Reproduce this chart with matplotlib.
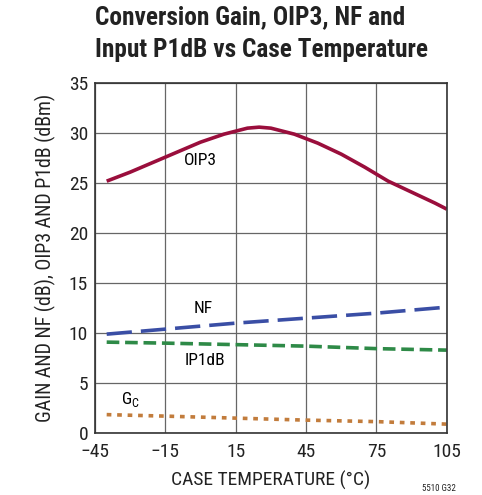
import matplotlib.pyplot as plt
import numpy as np

plt.rcParams["font.family"] = ["Roboto Condensed", "DejaVu Sans"]

# data
temp_oip3 = [-40, -30, -20, -10, 0, 10, 20, 25, 30, 40, 50, 60, 70, 80, 90, 100, 105]
oip3 = [25.2, 26.1, 27.1, 28.1, 29.1, 29.9, 30.5, 30.6, 30.5, 29.9, 29.0, 27.9, 26.6, 25.2, 24.1, 23.0, 22.4]

temp = [-40, -15, 15, 45, 75, 105]
nf = [9.9, 10.4, 11.0, 11.5, 12.0, 12.6]
ip1db = [9.1, 9.0, 8.85, 8.7, 8.45, 8.3]
gc = [1.85, 1.7, 1.5, 1.3, 1.15, 0.9]

xticks = [-45, -15, 15, 45, 75, 105]
xticklabels = ["\u221245", "\u221215", "15", "45", "75", "105"]

fig = plt.figure(figsize=(4.82, 4.95), dpi=100)
ax = fig.add_axes([0.197, 0.125, 0.73, 0.707])

ax.plot(temp_oip3, oip3, color="#9a0e3c", linewidth=2.6, solid_capstyle="butt")
ax.plot(temp, nf, color="#3a4ea5", linewidth=2.6, dashes=(7, 2.5))
ax.plot(temp, ip1db, color="#2e8a47", linewidth=2.6, dashes=(3.5, 1.6))
ax.plot(temp, gc, color="#c27c3c", linewidth=2.6, dashes=(1.3, 1.6))

ax.text(0, 27.3, "OIP3", fontsize=12.5, ha="center", va="center")
ax.text(1, 12.5, "NF", fontsize=12.5, ha="center", va="center")
ax.text(2, 7.3, "IP1dB", fontsize=12.5, ha="center", va="center")
ax.text(-30, 3.4, "G$_\\mathregular{C}$", fontsize=12.5, ha="center", va="center")

ax.set_xlim(-45, 105)
ax.set_ylim(0, 35)
ax.set_xticks(xticks)
ax.set_xticklabels(xticklabels)
ax.set_yticks(range(0, 36, 5))
ax.tick_params(labelsize=14, length=0, colors="#222222")
ax.tick_params(axis="x", pad=7)
ax.tick_params(axis="y", pad=5)
ax.grid(True, color="#666666", linewidth=0.9)
ax.set_axisbelow(True)
for s in ax.spines.values():
    s.set_color("#333333")
    s.set_linewidth(1.2)

ax.set_xlabel("CASE TEMPERATURE (\u00b0C)", fontsize=14, labelpad=7, color="#222222")
ax.set_ylabel("GAIN AND NF (dB), OIP3 AND P1dB (dBm)", fontsize=14.3, labelpad=9, color="#222222")

fig.text(0.197, 0.965, "Conversion Gain, OIP3, NF and",
         fontsize=18.3, fontweight="bold", ha="left", va="center", color="#222222")
fig.text(0.197, 0.899, "Input P1dB vs Case Temperature",
         fontsize=18.3, fontweight="bold", ha="left", va="center", color="#222222")
fig.text(0.945, 0.005, "5510 G32", fontsize=6.5, ha="right", va="bottom", color="#222222")

fig.savefig("out.png", dpi=100)
